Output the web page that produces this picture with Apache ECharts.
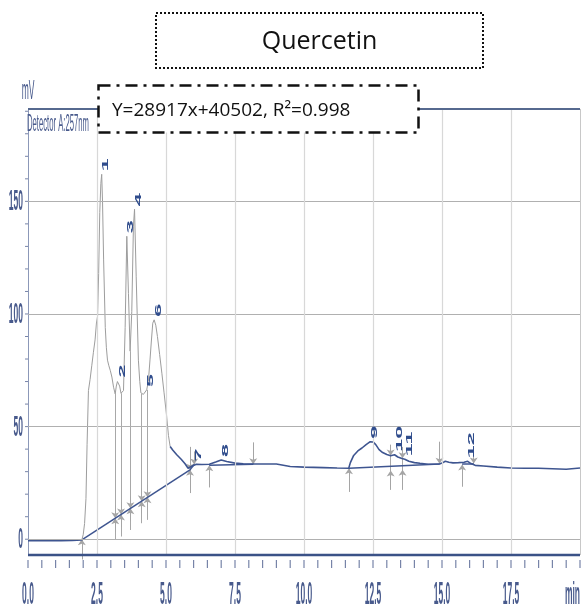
<!DOCTYPE html>
<html>
<head>
<meta charset="utf-8">
<script src="https://cdn.jsdelivr.net/npm/echarts@6/dist/echarts.min.js"></script>
<style>
  html, body { margin: 0; padding: 0; background: #fff; }
  #chart { width: 582px; height: 609px; }
</style>
</head>
<body>
<div id="chart"></div>
<script>
// chromatogram signal, time in min / intensity in mV
var startTimes = [0, 0.4, 0.8, 1.2, 1.6, 1.95];
var startValues = [-0.6, -0.6, -0.5, -0.6, -0.5, -0.3];

var peakTimes = [1.95, 2.0, 2.05, 2.1, 2.14, 2.19, 2.25, 2.31, 2.37, 2.43, 2.48, 2.52, 2.56, 2.6, 2.64, 2.67,
  2.7, 2.74, 2.8, 2.84, 2.88, 2.93, 2.98, 3.04, 3.1, 3.16, 3.2, 3.24, 3.28, 3.32, 3.37, 3.42, 3.46, 3.52,
  3.58, 3.64, 3.7, 3.76, 3.82, 3.86, 3.92, 4.0, 4.05, 4.09, 4.14, 4.18, 4.24, 4.3, 4.36, 4.42, 4.47, 4.52,
  4.57, 4.63, 4.69, 4.77, 4.85, 4.93, 5.02, 5.09, 5.15];
var peakValues = [-0.3, 2, 7, 18, 42, 66, 71, 77, 83, 88.5, 96, 99, 118, 145, 158, 162,
  150, 124, 94, 85, 79.5, 77, 75, 72, 67.5, 64.5, 68, 70, 70.5, 68, 64.8, 65.5, 66, 94,
  134.5, 109, 83.5, 101, 139, 146.5, 116.5, 79.5, 70, 65, 64.5, 64.3, 65, 66.3, 70, 79.6, 88, 95.9,
  97.4, 95, 90, 82, 73.7, 65, 55, 46, 41.2];

var tailTimes = [5.15, 5.25, 5.39, 5.55, 5.69, 5.8, 5.87, 5.95, 6.02, 6.1, 6.3, 6.57, 6.8, 7.0, 7.2, 7.5,
  7.8, 8.16, 8.6, 9.0, 9.5, 10.0, 10.7, 11.2, 11.62, 11.68, 11.8, 11.95, 12.1, 12.25, 12.4, 12.5, 12.6,
  12.72, 12.85, 13.0, 13.14, 13.28, 13.4, 13.55, 13.65, 13.8, 14.0, 14.2, 14.5, 14.91, 15.0, 15.12, 15.25,
  15.4, 15.6, 15.8, 15.93, 16.05, 16.2, 16.5, 17.0, 17.5, 18.0, 18.5, 19.0, 19.5, 20];
var tailValues = [41.2, 39.5, 37.5, 35.5, 33.5, 31.5, 30.8, 32.5, 33.2, 33.3, 33.2, 33.3, 34.3, 35.2, 34.5, 33.8,
  33.5, 33.4, 33.4, 33.4, 32.3, 32, 31.8, 31.6, 31.5, 34, 37.2, 39.2, 40.5, 42, 43.3, 43.2, 42,
  39.8, 38.5, 37.6, 37.1, 37.5, 36.5, 35.8, 35.5, 34.6, 34, 33.7, 33.3, 33.4, 33.8, 34.6, 34.2,
  33.9, 34, 34.2, 34.6, 33.6, 32.8, 32.5, 32.0, 31.6, 31.5, 31.5, 31.3, 31.1, 31.6];

// integration baselines
var baseStartT = [1.95, 5.87, 6.57, 11.63, 15.73];
var baseStartV = [-0.3, 30.8, 32.8, 31.5, 33.3];
var baseEndT = [5.87, 6.02, 8.16, 14.91, 16.15];
var baseEndV = [30.8, 33.2, 33.3, 33.4, 33.5];

// drop lines at peak separations
var dropTimes = [3.16, 3.37, 3.71, 4.12, 4.33, 13.14, 13.57];
var dropTop = [64.5, 64.8, 83.5, 64.5, 66.3, 37.1, 35.8];
var dropBottom = [-0.3, 1.2, 4.1, 7.1, 8.6, 22, 22];

// start / end markers
var arrowTimes = [1.95, 3.16, 3.16, 3.37, 3.37, 3.71, 3.71, 4.12, 4.12, 4.33, 4.33, 5.87, 5.87, 6.02, 6.57, 8.16,
  11.63, 13.14, 13.14, 13.57, 13.57, 14.91, 15.73, 16.15];
var arrowTails = [-9, 15, 3.5, 16.5, 5.5, 19, 8, 22.5, 11.5, 24, 13, 41, 20.5, 39, 23, 43,
  21, 42, 22, 41, 22, 43.3, 23.3, 41.1];
var arrowTips = [0, 9.3, 9.3, 11, 11, 13.7, 13.7, 16.9, 16.9, 18.6, 18.6, 30.8, 30.8, 33.2, 32.8, 33.3,
  31.5, 37.2, 30.5, 35.9, 30.8, 33.5, 33.2, 33.6];

// peak numbers
var peakNames = ['1', '2', '3', '4', '5', '6', '7', '8', '9', '10', '11', '12'];
var peakApexT = [2.67, 3.28, 3.58, 3.86, 4.30, 4.57, 6.05, 7.0, 12.42, 13.3, 13.66, 15.93];
var peakApexV = [162, 70.5, 134.5, 146.5, 66.3, 97.4, 33.2, 35.2, 43.3, 37.5, 35.5, 34.6];

// axes
var xTickValues = [0, 2.5, 5, 7.5, 10, 12.5, 15, 17.5];
var xTickLabels = ['0.0', '2.5', '5.0', '7.5', '10.0', '12.5', '15.0', '17.5'];
var xMinorStep = 0.5;
var yTickValues = [0, 50, 100, 150];
var yTickLabels = ['0', '50', '100', '150'];
var yMinorTicks = [0, 10, 20, 30, 40, 50, 60, 70, 80, 90, 100, 110, 120, 130, 140, 150, 160, 170, 180, 190];

var xMin = 0, xMax = 20, yMin = -7, yMax = 191;

function pairs(ts, vs) {
  return ts.map(function (t, i) { return [t, vs[i]]; });
}

var blue = '#3e5590';
var grayTrace = '#9d9d9d';
var labelBlue = '#485a8c';
var tickColor = '#7784a8';

var gridMarks = [];
yTickValues.forEach(function (v) {
  gridMarks.push({ yAxis: v, lineStyle: { color: '#b0b0b0', width: 1.2, type: 'solid' } });
});
xTickValues.slice(1).forEach(function (t) {
  gridMarks.push({ xAxis: t, lineStyle: { color: '#d8d8d8', width: 1.2, type: 'solid' } });
});
gridMarks.push({ xAxis: xMax, lineStyle: { color: '#c8c8c8', width: 1, type: 'solid' } });
gridMarks.push({ yAxis: yMax, lineStyle: { color: '#56698f', width: 2, type: 'solid' } });
gridMarks.push({ yAxis: yMin, lineStyle: { color: '#3b5287', width: 2.4, type: 'solid' } });

var chart = echarts.init(document.getElementById('chart'));

chart.setOption({
  animation: false,
  backgroundColor: '#fff',
  grid: { left: 28, right: 2, top: 109, bottom: 54 },
  xAxis: {
    type: 'value', min: xMin, max: xMax,
    axisLine: { show: false },
    axisTick: { show: false },
    axisLabel: { show: false },
    splitLine: { show: false }
  },
  yAxis: {
    type: 'value', min: yMin, max: yMax,
    axisLine: { show: true, lineStyle: { color: '#8c98b8', width: 1 } },
    axisTick: { show: false },
    axisLabel: { show: false },
    splitLine: { show: false }
  },
  series: [
    {
      name: 'frame', type: 'line', data: [], clip: false, silent: true, z: 1,
      markLine: { symbol: ['none', 'none'], silent: true, label: { show: false }, data: gridMarks }
    },
    {
      name: 'baselines', type: 'lines', coordinateSystem: 'cartesian2d', z: 3, silent: true,
      lineStyle: { color: blue, width: 1.5, opacity: 1 },
      data: baseStartT.map(function (t, i) {
        return { coords: [[t, baseStartV[i]], [baseEndT[i], baseEndV[i]]] };
      })
    },
    {
      name: 'drops', type: 'lines', coordinateSystem: 'cartesian2d', z: 2, silent: true,
      lineStyle: { color: '#a8a8a8', width: 1, opacity: 1 },
      data: dropTimes.map(function (t, i) {
        return { coords: [[t, dropTop[i]], [t, dropBottom[i]]] };
      })
    },
    {
      name: 'markers', type: 'lines', coordinateSystem: 'cartesian2d', z: 2, silent: true, clip: false,
      symbol: ['none', 'arrow'], symbolSize: 6,
      lineStyle: { color: '#a5a5a5', width: 1, opacity: 1 },
      data: arrowTimes.map(function (t, i) {
        return { coords: [[t, arrowTails[i]], [t, arrowTips[i]]] };
      })
    },
    {
      name: 'signal start', type: 'line', data: pairs(startTimes, startValues), z: 4,
      showSymbol: false, lineStyle: { color: blue, width: 1.6 }
    },
    {
      name: 'signal peaks', type: 'line', data: pairs(peakTimes, peakValues), z: 4,
      showSymbol: false, lineStyle: { color: grayTrace, width: 1 }
    },
    {
      name: 'signal tail', type: 'line', data: pairs(tailTimes, tailValues), z: 4,
      showSymbol: false, lineStyle: { color: blue, width: 1.6 }
    }
  ]
});

function squashed(text, x, y, o) {
  return {
    type: 'text', x: x, y: y, z: o.z || 10, silent: true,
    rotation: o.rotation || 0,
    scaleX: o.scaleX || 1, scaleY: o.scaleY || 1,
    style: {
      text: text, fill: o.color || labelBlue,
      fontSize: o.size, fontFamily: 'Liberation Sans', fontWeight: o.weight || 'normal',
      align: o.align || 'center', verticalAlign: 'middle'
    }
  };
}

function px(t, v) {
  return chart.convertToPixel({ xAxisIndex: 0, yAxisIndex: 0 }, [t, v]);
}

var graphics = [];
var bottomPx = px(xMin, yMin)[1];

// tick marks: time ruler below the frame, short marks left of the mV axis
for (var t = xMin; t <= xMax + 1e-9; t += xMinorStep) {
  var p = px(t, yMin);
  graphics.push({
    type: 'line', z: 5, silent: true,
    shape: { x1: p[0], y1: bottomPx + 5, x2: p[0], y2: bottomPx + 13 },
    style: { stroke: tickColor, lineWidth: 1.2 }
  });
}
yMinorTicks.forEach(function (v) {
  var p = px(xMin, v);
  graphics.push({
    type: 'line', z: 5, silent: true,
    shape: { x1: p[0] - 3, y1: p[1], x2: p[0], y2: p[1] },
    style: { stroke: tickColor, lineWidth: 1 }
  });
});

xTickValues.forEach(function (t, i) {
  var p = px(t, yMin);
  graphics.push(squashed(xTickLabels[i], p[0], bottomPx + 41, { size: 8.5, scaleY: 3.6, weight: 'bold' }));
});
graphics.push(squashed('min', px(xMax, yMin)[0], bottomPx + 41, { size: 8.5, scaleY: 3.6, align: 'right', weight: 'bold' }));

yTickValues.forEach(function (v, i) {
  var p = px(xMin, v);
  graphics.push(squashed(yTickLabels[i], p[0] - 5, p[1] + 1, { size: 8.5, scaleY: 3.4, align: 'right', weight: 'bold' }));
});

peakNames.forEach(function (name, i) {
  var p = px(peakApexT[i], peakApexV[i]);
  graphics.push(squashed(name, p[0] + 4, p[1] - 3, {
    size: 9, scaleX: 2.6, rotation: Math.PI / 2, align: 'left', color: '#2f4c8c', weight: 'bold'
  }));
});

var origin = px(xMin, yMax);
graphics.push(squashed('mV', origin[0], origin[1] - 18, { size: 8.5, scaleY: 3.2 }));
graphics.push(squashed('Detector A:257nm', origin[0] - 1, origin[1] + 16, { size: 7.7, scaleY: 3.0, align: 'left' }));

// title box
graphics.push({
  type: 'rect', z: 20, silent: true,
  shape: { x: 156, y: 13, width: 327, height: 55 },
  style: { fill: '#fff', stroke: '#111', lineWidth: 2, lineDash: [2, 2] }
});
graphics.push({
  type: 'text', z: 21, silent: true, x: 319.5, y: 42,
  style: { text: 'Quercetin', fill: '#111', fontSize: 25, fontFamily: 'Open Sans', align: 'center', verticalAlign: 'middle' }
});

// regression box
graphics.push({
  type: 'rect', z: 20, silent: true,
  shape: { x: 98.5, y: 85.5, width: 320, height: 47 },
  style: { fill: '#fff', stroke: '#111', lineWidth: 2.5, lineDash: [12, 6, 3, 6] }
});
graphics.push({
  type: 'text', z: 21, silent: true, x: 112, y: 111,
  style: { text: 'Y=28917x+40502, R\u00b2=0.998', fill: '#111', fontSize: 19, fontFamily: 'Open Sans', align: 'left', verticalAlign: 'middle' }
});

chart.setOption({ graphic: graphics });
</script>
</body>
</html>
